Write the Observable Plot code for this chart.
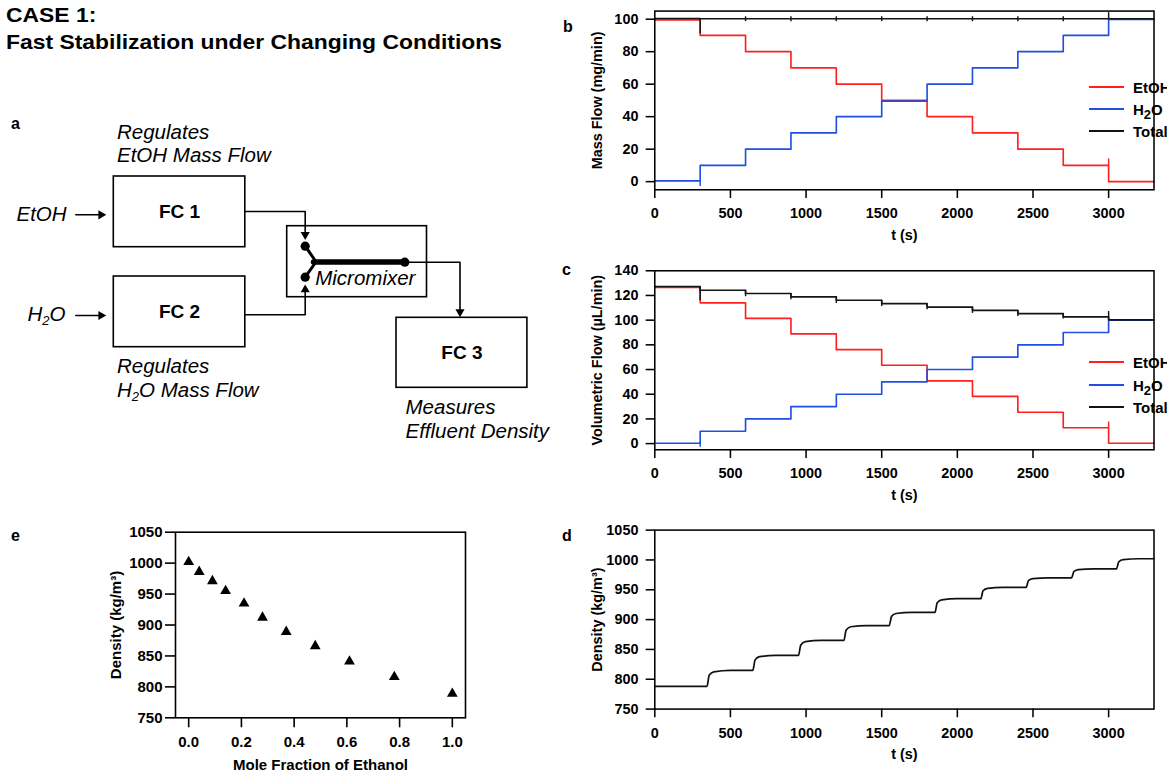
<!DOCTYPE html>
<html><head><meta charset="utf-8">
<script src="https://cdn.jsdelivr.net/npm/d3@7"></script>
<script src="https://cdn.jsdelivr.net/npm/@observablehq/plot@0.6"></script>
<style>
html,body{margin:0;padding:0;width:1167px;height:774px;overflow:hidden;background:#fff;font-family:"Liberation Sans",Arial,Helvetica,sans-serif;color:#000;}
.abs{position:absolute;}
.plab{position:absolute;font-weight:bold;font-size:16px;line-height:20px;}
.legend{position:absolute;font-weight:bold;font-size:15px;}
.row{position:absolute;left:0;height:18px;display:flex;align-items:center;white-space:nowrap;}
.sw{width:35px;height:2px;margin-right:9px;}
.row sub{font-size:13px;vertical-align:-4px;line-height:0;}
</style></head><body>
<div class="abs" style="left:6px;top:1px;font-weight:bold;font-size:21px;line-height:27px;white-space:nowrap;transform:scaleX(1.09);transform-origin:0 0;">CASE 1:<br>Fast Stabilization under Changing Conditions</div>
<div class="plab" style="left:11px;top:114px;">a</div>
<div class="plab" style="left:563px;top:17px;">b</div>
<div class="plab" style="left:562px;top:260px;">c</div>
<div class="plab" style="left:562px;top:526px;">d</div>
<div class="plab" style="left:11px;top:526px;">e</div>
<div id="diagram" class="abs" style="left:0;top:0;"></div>
<div id="pb" class="abs" style="left:560px;top:0;"></div>
<div id="pc" class="abs" style="left:560px;top:260px;"></div>
<div id="pd" class="abs" style="left:560px;top:520px;"></div>
<div id="pe" class="abs" style="left:0;top:520px;"></div>
<div id="legb" class="legend" style="left:1089px;top:0;"></div>
<div id="legc" class="legend" style="left:1089px;top:0;"></div>
<script>
const FONT = '"Liberation Sans", Arial, Helvetica, sans-serif';

// ---------- data ----------
const tSteps = [0, 300, 600, 900, 1200, 1500, 1800, 2100, 2400, 2700, 3000];
const tEnd = 3300;
const timeTicks = [0, 500, 1000, 1500, 2000, 2500, 3000];

// b: mass flow (mg/min)
const massEtOH  = [99.6, 90, 80, 70, 60, 50, 40, 30, 20, 10, 0];
const massH2O   = [0.5, 10, 20, 30, 40, 49.6, 60, 70, 80, 90, 99.8];
const massTotal = [100.4, 100.3, 100.3, 100.3, 100.3, 100.3, 100.3, 100.3, 100.3, 100.3, 100.3];
const massTicks = [0, 20, 40, 60, 80, 100];
// transient spikes at switching: series, time, low, high
const massSpikeS  = ["Total", "H2O", "Total", "Total", "Total", "Total", "Total", "Total", "Total", "Total", "Total", "EtOH"];
const massSpikeT  = [300, 300, 600, 900, 1200, 1500, 1800, 2100, 2400, 2700, 3000, 3000];
const massSpikeLo = [91, -3, 98.5, 98.5, 98.5, 98.5, 98.5, 98.5, 98.5, 98.5, 100.3, 10];
const massSpikeHi = [100.4, 0.5, 101.5, 101.5, 101.5, 101.5, 101.5, 101.5, 101.5, 101.5, 104, 14];

// c: volumetric flow (µL/min)
const volEtOH  = [126.5, 114, 101.4, 88.9, 76.1, 63.5, 50.8, 38.2, 25.4, 12.8, 0.3];
const volH2O   = [0.3, 10, 20, 30, 40, 50, 60, 70, 80, 90, 100];
const volTotal = [127.3, 124.2, 121.6, 118.9, 116.1, 113.4, 110.6, 107.9, 105.3, 102.7, 100.2];
const volTicks = [0, 20, 40, 60, 80, 100, 120, 140];
const volSpikeS  = ["Total", "H2O", "Total", "Total", "Total", "Total", "Total", "Total", "Total", "Total", "Total", "EtOH"];
const volSpikeT  = [300, 300, 600, 900, 1200, 1500, 1800, 2100, 2400, 2700, 3000, 3000];
const volSpikeLo = [116, -3, 119, 116.5, 113.5, 111, 108.5, 105.5, 103, 101, 100.2, 12.8];
const volSpikeHi = [127.3, 0.3, 124.2, 121.6, 118.9, 116.1, 113.4, 110.6, 107.9, 105.3, 107, 17.5];

// d: measured density (kg/m3) vs time
const densT = [0, 345, 360, 390, 500, 648, 663, 693, 800, 950, 965, 995, 1100, 1250, 1265, 1295, 1400,
  1550, 1565, 1595, 1700, 1852, 1867, 1897, 2000, 2155, 2170, 2200, 2300, 2455, 2470, 2500, 2600,
  2755, 2770, 2800, 2900, 3052, 3067, 3097, 3200, 3300];
const densV = [788, 788, 807, 812.5, 815, 815, 832.5, 838, 840, 840, 857.5, 863, 865, 865, 882.5, 888, 890,
  890, 905.4, 910.2, 912, 912, 928.1, 933.2, 935, 935, 948.3, 952.5, 954, 954, 965.2, 968.7, 970,
  970, 980.5, 983.8, 985, 985, 996.9, 1000.6, 1002, 1002];
const densTicks = [750, 800, 850, 900, 950, 1000, 1050];

// e: density vs mole fraction of ethanol
const moleFrac = [0, 0.04, 0.09, 0.14, 0.21, 0.28, 0.37, 0.48, 0.61, 0.78, 1.0];
const moleDens = [1002, 986, 971, 955, 935, 912, 889, 866, 841, 816, 789];
const fracTicks = [0, 0.2, 0.4, 0.6, 0.8, 1.0];

const seriesNames = ["EtOH", "H2O", "Total"];
const COLORS = {EtOH: "#ff1f1f", H2O: "#1f4fe3", Total: "#141414"};

// ---------- diagram (schematic, pixel layout) ----------
const boxX1 = [113.3, 113.3, 286.7, 396];
const boxY1 = [176, 276, 225.7, 317.3];
const boxX2 = [244.8, 244.8, 426.5, 526.9];
const boxY2 = [246.7, 346.7, 296.7, 387.3];
const boxLabel = ["FC 1", "FC 2", "", "FC 3"];

const pipeId = [0,0,0, 1,1,1, 2,2,2, 3,3, 4,4];
const pipeX  = [244.8,304.7,304.7, 244.8,304.7,304.7, 404.3,459.5,459.5, 75.3,99, 75.3,99];
const pipeY  = [211,211,233, 314.3,314.3,290, 261.7,261.7,310, 214.3,214.3, 315,315];

const headX   = [100.5, 100.5, 304.7, 304.7, 459.5];
const headY   = [214.3, 315, 234.1, 289.2, 311.5];
const headRot = [90, 90, 180, 0, 180];

const chanId = [0,0, 1,1];
const chanX  = [304.7,315.4, 304.7,315.4];
const chanY  = [245.7,261, 276.7,261.5];
const mainChanX = [313, 404.3];
const mainChanY = [261.4, 261.4];
const portX = [304.7, 304.7, 404.3];
const portY = [245.7, 276.7, 261.7];

const noteText = ["Regulates", "EtOH Mass Flow", "EtOH", "H2O", "Regulates", "H2O Mass Flow", "Micromixer", "Measures", "Effluent Density"];
const noteX = [116.5, 116.5, 16, 26.9, 116.5, 116.5, 314.7, 405, 405];
const noteY = [138.3, 161.7, 220, 320, 372.7, 396.7, 284, 413.3, 437];

// ---------- build ----------
const boxes = boxX1.map((x1, i) => ({x1, y1: boxY1[i], x2: boxX2[i], y2: boxY2[i], label: boxLabel[i],
  cx: (x1 + boxX2[i]) / 2, cy: (boxY1[i] + boxY2[i]) / 2}));
const pipes = pipeX.map((x, i) => ({x, y: pipeY[i], id: pipeId[i]}));
const heads = headX.map((x, i) => ({x, y: headY[i], r: headRot[i]}));
const chans = chanX.map((x, i) => ({x, y: chanY[i], id: chanId[i]}));
const mainChan = mainChanX.map((x, i) => ({x, y: mainChanY[i]}));
const ports = portX.map((x, i) => ({x, y: portY[i]}));
const notes = noteText.map((t, i) => ({t, x: noteX[i], y: noteY[i]}));

const diagram = Plot.plot({
  width: 560, height: 460, margin: 0,
  x: {type: "identity", axis: null}, y: {type: "identity", axis: null},
  style: {fontFamily: FONT, background: "transparent", color: "#000", overflow: "visible"},
  marks: [
    Plot.rect(boxes, {x1: "x1", y1: "y1", x2: "x2", y2: "y2", fill: "none", stroke: "#000", strokeWidth: 1.6}),
    Plot.text(boxes.filter(d => d.label), {x: "cx", y: "cy", text: "label", fontSize: 19, fontWeight: "bold",
      textAnchor: "middle", lineAnchor: "middle"}),
    Plot.line(pipes, {x: "x", y: "y", z: "id", stroke: "#000", strokeWidth: 1.6}),
    Plot.dot(heads, {x: "x", y: "y", rotate: "r", symbol: "triangle", r: 3.4, fill: "#000", stroke: null}),
    Plot.line(chans, {x: "x", y: "y", z: "id", stroke: "#000", strokeWidth: 3}),
    Plot.line(mainChan, {x: "x", y: "y", stroke: "#000", strokeWidth: 5.5}),
    Plot.dot(ports, {x: "x", y: "y", r: 4.6, fill: "#000", stroke: null}),
    Plot.text(notes, {x: "x", y: "y", text: "t", fontSize: 20.5, fontStyle: "italic",
      textAnchor: "start", lineAnchor: "bottom"})
  ]
});
// subscript 2 in H2O
d3.select(diagram).selectAll("text").each(function() {
  const s = this.textContent;
  if (s.includes("H2O")) {
    const rest = s.slice(s.indexOf("H2O") + 3);
    const sel = d3.select(this);
    sel.text(null);
    sel.append("tspan").text("H");
    sel.append("tspan").attr("font-size", "13px").attr("dy", 4).text("2");
    sel.append("tspan").attr("dy", -4).text("O" + rest);
  }
});
document.getElementById("diagram").append(diagram);

function stepRows(vals, s) {
  const rows = tSteps.map((t, i) => ({t, v: vals[i], s}));
  rows.push({t: tEnd, v: vals[vals.length - 1], s});
  return rows;
}
function spikeRows(S, T, L, H) {
  return S.map((s, i) => ({s, t: T[i], lo: L[i], hi: H[i]}));
}

function axisStyle() {
  return {fontFamily: FONT, fontSize: "15px", fontWeight: "bold", color: "#000", background: "transparent", overflow: "visible"};
}
const PXS = 78.6 / 500; // pixels per second (layout)
const timeWidth = tEnd * PXS;

function timePlot({lines, spikes, yDomain, yTicks, yLabel, mTop, height, mBottom}) {
  const marks = [];
  for (const name of seriesNames) {
    if (lines[name]) marks.push(Plot.line(lines[name], {x: "t", y: "v", stroke: COLORS[name], strokeWidth: 1.7, curve: "step-after"}));
    if (spikes) marks.push(Plot.ruleX(spikes.filter(d => d.s === name), {x: "t", y1: "lo", y2: "hi", stroke: COLORS[name], strokeWidth: 1.5}));
  }
  if (lines.curve) marks.push(Plot.line(lines.curve, {x: "t", y: "v", stroke: "#111", strokeWidth: 1.8, curve: "monotone-x"}));
  marks.push(
    Plot.frame({stroke: "#000", strokeWidth: 1.6}),
    Plot.axisX({ticks: timeTicks, tickSize: 9, tickPadding: 10, tickFormat: d => String(d), label: null, strokeWidth: 1.6}),
    Plot.axisY({ticks: yTicks, tickSize: 9, tickPadding: 8, tickFormat: d => String(d), label: null, strokeWidth: 1.6}),
    Plot.text([yLabel], {frameAnchor: "left", dx: -60, rotate: -90, text: d => d, textAnchor: "middle", lineAnchor: "middle", fontSize: 15, fontWeight: "bold"}),
    Plot.text(["t (s)"], {frameAnchor: "bottom", dy: 47, text: d => d, textAnchor: "middle", lineAnchor: "middle", fontSize: 15, fontWeight: "bold"})
  );
  return Plot.plot({
    width: 98 + timeWidth + 14, height, marginLeft: 98, marginRight: 14, marginTop: mTop, marginBottom: mBottom,
    style: axisStyle(),
    x: {domain: [0, tEnd]}, y: {domain: yDomain},
    marks
  });
}

document.getElementById("pb").append(timePlot({
  lines: {EtOH: stepRows(massEtOH, "EtOH"), H2O: stepRows(massH2O, "H2O"), Total: stepRows(massTotal, "Total")},
  spikes: spikeRows(massSpikeS, massSpikeT, massSpikeLo, massSpikeHi),
  yDomain: [-5, 105], yTicks: massTicks, yLabel: "Mass Flow (mg/min)",
  mTop: 11, height: 260, mBottom: 63.3
}));
document.getElementById("pc").append(timePlot({
  lines: {EtOH: stepRows(volEtOH, "EtOH"), H2O: stepRows(volH2O, "H2O"), Total: stepRows(volTotal, "Total")},
  spikes: spikeRows(volSpikeS, volSpikeT, volSpikeLo, volSpikeHi),
  yDomain: [-5, 140], yTicks: volTicks, yLabel: "Volumetric Flow (µL/min)",
  mTop: 10.7, height: 260, mBottom: 63.3
}));
document.getElementById("pd").append(timePlot({
  lines: {curve: densT.map((t, i) => ({t, v: densV[i]}))},
  spikes: null,
  yDomain: [750, 1050], yTicks: densTicks, yLabel: "Density (kg/m³)",
  mTop: 10, height: 254, mBottom: 58
}));

// e
document.getElementById("pe").append(Plot.plot({
  width: 500, height: 254, marginLeft: 175, marginRight: 35, marginTop: 11.7, marginBottom: 56.7,
  style: axisStyle(),
  x: {domain: [-0.05, 1.05]}, y: {domain: [750, 1050]},
  marks: [
    Plot.dot(moleFrac.map((x, i) => ({x, y: moleDens[i]})), {x: "x", y: "y", symbol: "triangle", r: 4, fill: "#000", stroke: null}),
    Plot.frame({stroke: "#000", strokeWidth: 1.6}),
    Plot.axisX({ticks: fracTicks, tickSize: 10, tickPadding: 9, tickFormat: d3.format(".1f"), label: null, strokeWidth: 1.6}),
    Plot.axisY({ticks: densTicks, tickSize: 10, tickPadding: 3, tickFormat: d => String(d), label: null, strokeWidth: 1.6}),
    Plot.text(["Density (kg/m³)"], {frameAnchor: "left", dx: -59, rotate: -90, text: d => d, textAnchor: "middle", lineAnchor: "middle", fontSize: 15, fontWeight: "bold"}),
    Plot.text(["Mole Fraction of Ethanol"], {frameAnchor: "bottom", dy: 47, text: d => d, textAnchor: "middle", lineAnchor: "middle", fontSize: 15, fontWeight: "bold"})
  ]
}));

// legends
function legend(id, ys) {
  const el = document.getElementById(id);
  const labels = ["EtOH", "H<sub>2</sub>O", "Total"];
  seriesNames.forEach((n, i) => {
    const r = document.createElement("div");
    r.className = "row";
    r.style.top = (ys[i] - 9) + "px";
    r.innerHTML = `<div class="sw" style="background:${COLORS[n]}"></div><span>${labels[i]}</span>`;
    el.append(r);
  });
}
legend("legb", [87.3, 109.3, 131]);
legend("legc", [362.3, 385, 407.3]);
</script>
</body></html>
